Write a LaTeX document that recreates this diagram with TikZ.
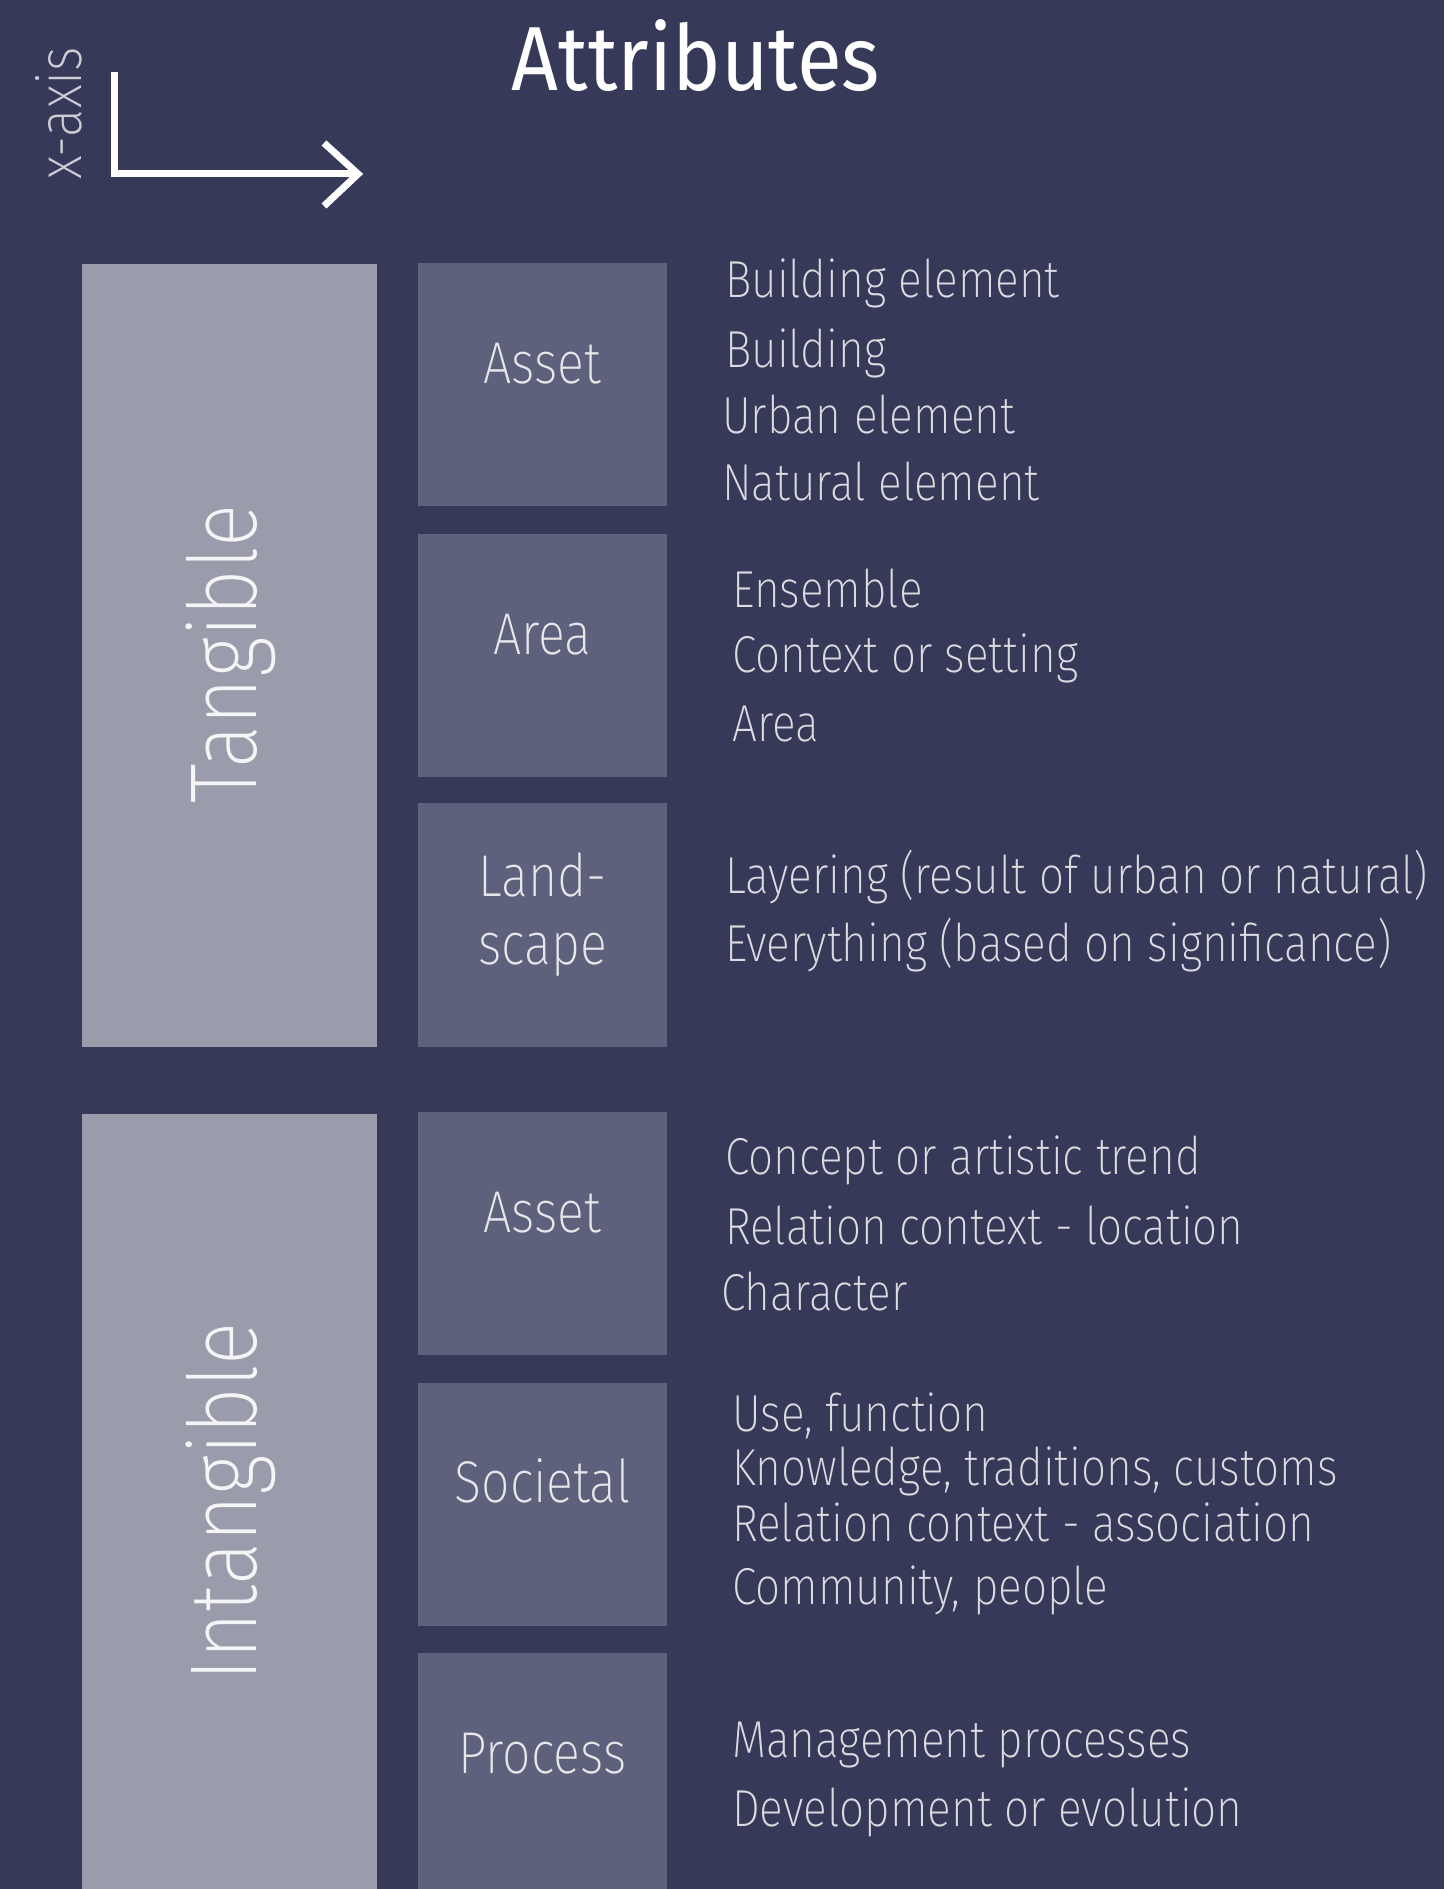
\documentclass[tikz,border=0pt]{standalone}
\usepackage{fontspec}
\IfFontExistsTF{Fira Sans ExtraLight}
  {\newfontfamily\thinf{Fira Sans ExtraLight}[FakeStretch=0.85]}
  {\IfFontExistsTF{Fira Sans Thin}
    {\newfontfamily\thinf{Fira Sans Thin}[FakeStretch=0.85]}
    {\IfFontExistsTF{Fira Sans Light}
      {\newfontfamily\thinf{Fira Sans Light}[FakeStretch=0.85]}
      {\newfontfamily\thinf{Fira Sans}[FakeStretch=0.85]}}}
\newfontfamily\regf{Fira Sans}[FakeStretch=0.9]
\definecolor{bg}{HTML}{373958}
\definecolor{tallc}{HTML}{9A9CAB}
\definecolor{smallc}{HTML}{5D617B}
\tikzset{
  tallbox/.style={fill=tallc, draw=none, minimum width=295pt, inner sep=0pt},
  smallbox/.style={fill=smallc, draw=none, minimum width=249pt, inner sep=0pt},
  biglabel/.style={text=white!90!tallc, font=\thinf\fontsize{95}{100}\selectfont, rotate=90, anchor=base, inner sep=0pt},
  boxlabel/.style={text=white!85!smallc, font=\thinf\fontsize{59}{68}\selectfont, anchor=base, inner sep=0pt},
  item/.style={text=white!82!bg, font=\thinf\fontsize{52}{60}\selectfont, anchor=base west, inner sep=0pt},
  axisline/.style={white, line width=7pt},
}
\begin{document}
\begin{tikzpicture}[x=1pt, y=-1pt]
\useasboundingbox (0,0) rectangle (1444,1889);
\clip (0,0) rectangle (1444,1889);
\fill[bg] (0,0) rectangle (1444,1889);
% title and axis
\node[text=white, font=\regf\fontsize{91}{100}\selectfont, anchor=base, inner sep=0pt] (title) at (696,91) {Attributes};
\node[text=white!75!bg, font=\thinf\fontsize{62}{66}\selectfont, rotate=90, anchor=base, inner sep=0pt] (xaxis) at (81,113) {x-axis};
\coordinate (atop) at (114,72);
\coordinate (acorner) at (114,174);
\coordinate (atip) at (358,174);
\coordinate (aup) at (324,143);
\coordinate (adown) at (324,206);
\draw[axisline] (atop) -- (acorner) -- (atip);
\draw[axisline, line join=miter] (aup) -- (atip) -- (adown);
% tall boxes
\node[tallbox, minimum height=783pt] (tangbox) at (229.5,655.5) {};
\node[tallbox, minimum height=786pt] (intbox) at (229.5,1507) {};
\node[biglabel] (tanglabel) at (256,654) {Tangible};
\node[biglabel] (intlabel) at (256,1502) {Intangible};
% small boxes
\node[smallbox, minimum height=243pt] (asset1) at (542.5,384.5) {};
\node[smallbox, minimum height=243pt] (area) at (542.5,655.5) {};
\node[smallbox, minimum height=244pt] (land) at (542.5,925) {};
\node[smallbox, minimum height=243pt] (asset2) at (542.5,1233.5) {};
\node[smallbox, minimum height=243pt] (soc) at (542.5,1504.5) {};
\node[smallbox, minimum height=247pt] (proc) at (542.5,1776.5) {};
\node[boxlabel] (lasset1) at (542.5,383) {Asset};
\node[boxlabel] (larea) at (542.5,654) {Area};
\node[boxlabel] (lland1) at (542.5,896) {Land-};
\node[boxlabel] (lland2) at (542.5,964) {scape};
\node[boxlabel] (lasset2) at (542.5,1232) {Asset};
\node[boxlabel] (lsoc) at (542.5,1502) {Societal};
\node[boxlabel] (lproc) at (542.5,1773) {Process};
% lists
\node[item] (t1) at (725,297) {Building element};
\node[item] (t2) at (725,367) {Building};
\node[item] (t3) at (722,433) {Urban element};
\node[item] (t4) at (722,500) {Natural element};
\node[item] (a1) at (732,607) {Ensemble};
\node[item] (a2) at (732,672) {Context or setting};
\node[item] (a3) at (732,741) {Area};
\node[item] (l1) at (725,893) {Layering (result of urban or natural)};
\node[item] (l2) at (725,961) {Everything (based on significance)};
\node[item] (i1) at (725,1174) {Concept or artistic trend};
\node[item] (i2) at (725,1244) {Relation context - location};
\node[item] (i3) at (721,1310) {Character};
\node[item] (s1) at (732,1431) {Use, function};
\node[item] (s2) at (732,1485) {Knowledge, traditions, customs};
\node[item] (s3) at (732,1541) {Relation context - association};
\node[item] (s4) at (732,1604) {Community, people};
\node[item] (p1) at (732,1757) {Management processes};
\node[item] (p2) at (732,1826) {Development or evolution};
\end{tikzpicture}
\end{document}
